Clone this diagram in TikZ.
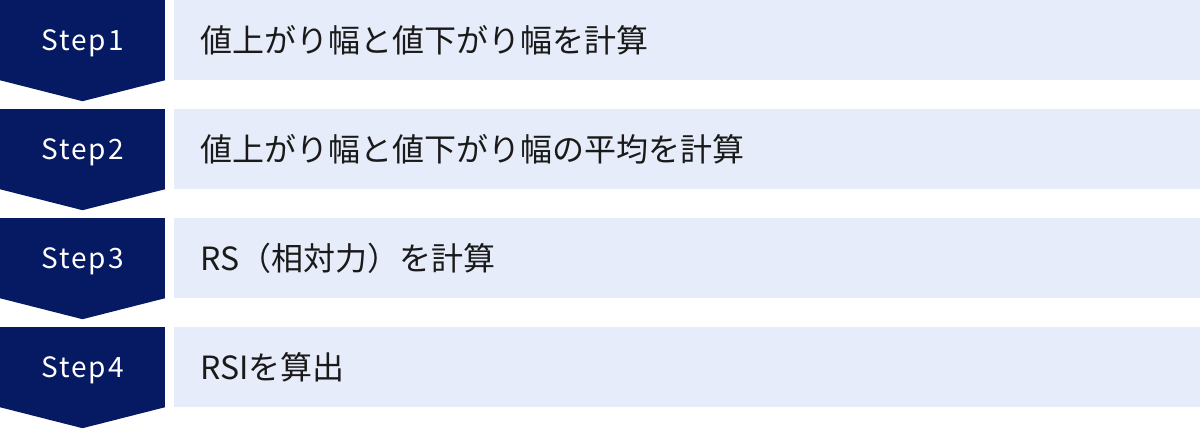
\documentclass[tikz,border=0pt]{standalone}
\usepackage{fontspec}
\setmainfont{Noto Sans CJK JP}
\newfontfamily\stepfont[LetterSpace=7]{Noto Sans CJK JP}
\usetikzlibrary{positioning}
\definecolor{navy}{HTML}{061A64}
\definecolor{pale}{HTML}{E6ECF9}
\definecolor{ink}{HTML}{1A1A1A}

\begin{document}
\begin{tikzpicture}[x=1pt, y=1pt, node distance=109pt,
	stepbox/.style={fill=navy, text=white, minimum width=165pt, minimum height=80pt, inner sep=0pt, text depth=0pt, font=\stepfont\fontsize{28}{32}\selectfont},
	textbox/.style={fill=pale, text=ink, minimum height=80pt, text width=974pt, inner xsep=26pt, inner ysep=0pt, align=left, font=\fontsize{32}{38}\selectfont}]
	\useasboundingbox (0,0) rectangle (1200,-429);

	\node[stepbox]				at (82.5,-40)	(s1)	{Step1};
	\node[stepbox, below of=s1]					(s2)	{Step2};
	\node[stepbox, below of=s2]					(s3)	{Step3};
	\node[stepbox, below of=s3]					(s4)	{Step4};

	\foreach \s in {s1,s2,s3,s4}
		\fill[navy] (\s.south west) -- (\s.south east) -- ([yshift=-21pt]\s.south) -- cycle;

	\node[textbox, right=9pt of s1]	(t1)	{値上がり幅と値下がり幅を計算};
	\node[textbox, right=9pt of s2]	(t2)	{値上がり幅と値下がり幅の平均を計算};
	\node[textbox, right=9pt of s3]	(t3)	{RS（相対力）を計算};
	\node[textbox, right=9pt of s4]	(t4)	{RSIを算出};
\end{tikzpicture}
\end{document}
